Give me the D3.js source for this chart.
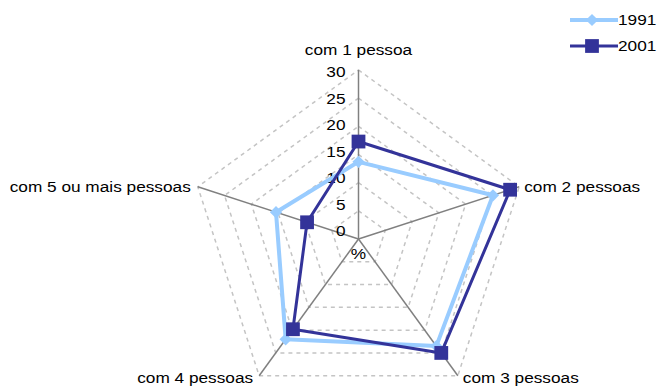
<!DOCTYPE html>
<html>
<head>
<meta charset="utf-8">
<script src="https://cdn.jsdelivr.net/npm/d3@7"></script>
<style>
  body { margin: 0; background: #fff; }
  text { font-family: "Liberation Sans", Arial, sans-serif; font-size: 14.5px; fill: #000; }
</style>
</head>
<body>
<div id="container"></div>
<script>
// categories and series
var categories = ["com 1 pessoa", "com 2 pessoas", "com 3 pessoas", "com 4 pessoas", "com 5 ou mais pessoas"];
var years = ["1991", "2001"];
var values1991 = [13.7, 25.1, 23.5, 22.0, 15.4];
var values2001 = [17.3, 28.3, 25.0, 19.8, 9.6];
var ticks = [0, 5, 10, 15, 20, 25, 30];

var w = 657, h = 387;
var cx = 358.5, cy = 239, R = 169;
var sx = 1.19; // text is drawn a little wide, like the original

var svg = d3.select("#container").append("svg")
  .attr("width", w)
  .attr("height", h);

var r = d3.scaleLinear().domain([0, 30]).range([0, R]);
var tickY = d3.scaleLinear().domain([0, 30]).range([cy - 3, 77]);
var angle = d3.scaleLinear().domain([0, categories.length]).range([0, 2 * Math.PI]);

function pt(i, v) {
  var a = angle(i);
  return [cx + r(v) * Math.sin(a), cy - r(v) * Math.cos(a)];
}

function addText(sel, x, y, anchor, str) {
  return sel.append("text")
    .attr("transform", "translate(" + x + "," + y + ") scale(" + sx + ",1)")
    .attr("text-anchor", anchor)
    .text(str);
}

var g = svg.append("g");

// dashed grid pentagons
g.selectAll(".grid")
  .data(ticks.slice(1))
  .enter().append("polygon")
  .attr("points", function (t) {
    return categories.map(function (c, i) { return pt(i, t).join(","); }).join(" ");
  })
  .attr("fill", "none")
  .attr("stroke", "#c4c4c4")
  .attr("stroke-width", 1.5)
  .attr("stroke-dasharray", "4,4");

// spokes
g.selectAll(".spoke")
  .data(categories)
  .enter().append("line")
  .attr("x1", cx).attr("y1", cy)
  .attr("x2", function (d, i) { return pt(i, 30)[0]; })
  .attr("y2", function (d, i) { return pt(i, 30)[1]; })
  .attr("stroke", "#808080")
  .attr("stroke-width", 1.5);

// tick labels on the first axis
ticks.forEach(function (t) {
  addText(g, cx - 13, tickY(t), "end", t);
});
addText(g, cx, cy + 20, "middle", "%");

// category labels
var labelPos = [
  { dx: 0, dy: -15, anchor: "middle" },
  { dx: 5, dy: 5, anchor: "start" },
  { dx: 5, dy: 7, anchor: "start" },
  { dx: -6, dy: 7, anchor: "end" },
  { dx: -7, dy: 5, anchor: "end" }
];
categories.forEach(function (c, i) {
  var p = pt(i, 30);
  addText(g, p[0] + labelPos[i].dx, p[1] + labelPos[i].dy, labelPos[i].anchor, c);
});

// 1991 uses a diamond (square turned 45deg), 2001 a square
var series = [
  { name: years[0], values: values1991, color: "#99ccff", width: 4, rot: 45, size: 75 },
  { name: years[1], values: values2001, color: "#333399", width: 3, rot: 0, size: 190 }
];

var line = d3.line().curve(d3.curveLinearClosed);

series.forEach(function (s) {
  var pts = s.values.map(function (v, i) { return pt(i, v); });
  g.append("path")
    .attr("d", line(pts))
    .attr("fill", "none")
    .attr("stroke", s.color)
    .attr("stroke-width", s.width)
    .attr("stroke-linejoin", "round");
  g.selectAll(null)
    .data(pts)
    .enter().append("path")
    .attr("transform", function (p) { return "translate(" + p[0] + "," + p[1] + ") rotate(" + s.rot + ")"; })
    .attr("d", d3.symbol().type(d3.symbolSquare).size(s.size))
    .attr("fill", s.color);
});

// legend
var legend = svg.append("g");
series.forEach(function (s, i) {
  var y = 20 + i * 26;
  legend.append("line")
    .attr("x1", 570).attr("x2", 618)
    .attr("y1", y).attr("y2", y)
    .attr("stroke", s.color)
    .attr("stroke-width", s.width);
  legend.append("path")
    .attr("transform", "translate(592," + y + ") rotate(" + s.rot + ")")
    .attr("d", d3.symbol().type(d3.symbolSquare).size(s.size))
    .attr("fill", s.color);
  addText(legend, 618, y + 5, "start", s.name);
});
</script>
</body>
</html>
